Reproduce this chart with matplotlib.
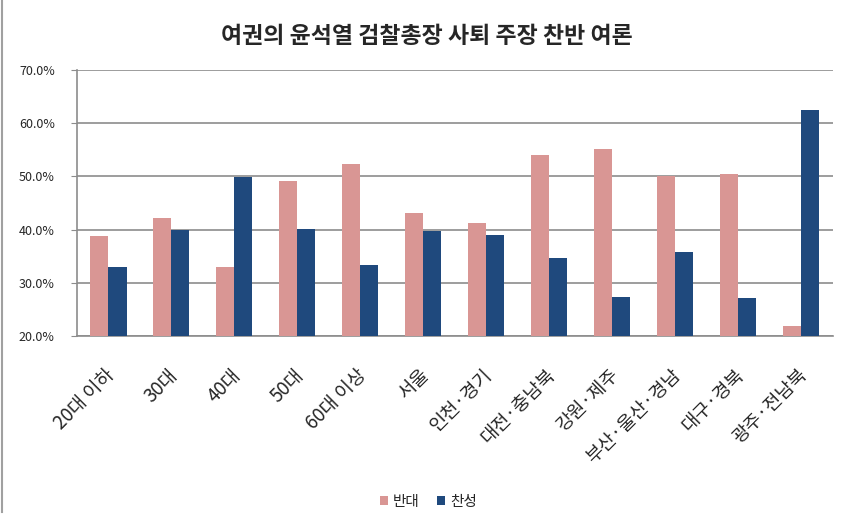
import numpy as np
import matplotlib
matplotlib.use("Agg")
import matplotlib.pyplot as plt
import matplotlib.transforms as mtransforms
from matplotlib.lines import Line2D
from matplotlib.ticker import FuncFormatter

plt.rcParams['font.family'] = ['Noto Sans CJK KR', 'DejaVu Sans']

# Data
categories = ["20대 이하", "30대", "40대", "50대", "60대 이상", "서울", "인천·경기",
              "대전·충남북", "강원·제주", "부산·울산·경남", "대구·경북", "광주·전남북"]
oppose = [38.9, 42.2, 32.9, 49.1, 52.3, 43.2, 41.2, 54.1, 55.2, 50.0, 50.4, 22.0]
support = [32.9, 40.0, 49.9, 40.2, 33.4, 39.8, 39.0, 34.7, 27.3, 35.9, 27.1, 62.5]
yticks = [20, 30, 40, 50, 60, 70]

pink = "#D99694"
navy = "#1F497D"
grid = "#8C8C8C"
txt = "#262626"

fig = plt.figure(figsize=(8.5, 5.22), dpi=100)
ax = fig.add_axes([0.0906, 0.356, 0.889, 0.510])

x = np.arange(len(categories))
w = 0.286
ax.bar(x - w / 2, oppose, w, color=pink, label="반대", zorder=3)
ax.bar(x + w / 2, support, w, color=navy, label="찬성", zorder=3)

ax.set_xlim(-0.5, len(categories) - 0.5)
ax.set_ylim(20, 70)
ax.set_yticks(yticks)
ax.yaxis.set_major_formatter(FuncFormatter(lambda v, p: f"{v:.1f}%"))
ax.yaxis.grid(True, color=grid, linewidth=1.2, zorder=0)
ax.tick_params(axis='y', length=4, color=grid, labelsize=9, pad=12, labelcolor=txt)
ax.tick_params(axis='x', length=0, pad=26)

for s in ['top', 'right']:
    ax.spines[s].set_visible(False)
for s in ['left', 'bottom']:
    ax.spines[s].set_color(grid)
    ax.spines[s].set_linewidth(1.2)

ax.set_xticks(x)
ax.set_xticklabels(categories, rotation=45, ha='right', va='center',
                   rotation_mode='anchor', fontsize=13.5, color=txt)
shift = mtransforms.ScaledTranslation(3 / 100, 0, fig.dpi_scale_trans)
for lab in ax.get_xticklabels():
    lab.set_transform(lab.get_transform() + shift)

fig.suptitle("여권의 윤석열 검찰총장 사퇴 주장 찬반 여론", x=0.502, y=0.952,
             fontsize=16.5, fontweight='bold', color=txt)

fig.legend(loc='center', bbox_to_anchor=(0.504, 0.039), ncol=2, frameon=False,
           fontsize=10.5, handlelength=0.55, handleheight=0.55, handletextpad=0.35,
           columnspacing=1.2, labelcolor=txt)

# thin frame on the left edge of the image
fig.add_artist(Line2D([0.002, 0.002], [0.02, 1.0], transform=fig.transFigure,
                      color="#A0A0A0", linewidth=1.5))

fig.savefig("out.png", dpi=100)
